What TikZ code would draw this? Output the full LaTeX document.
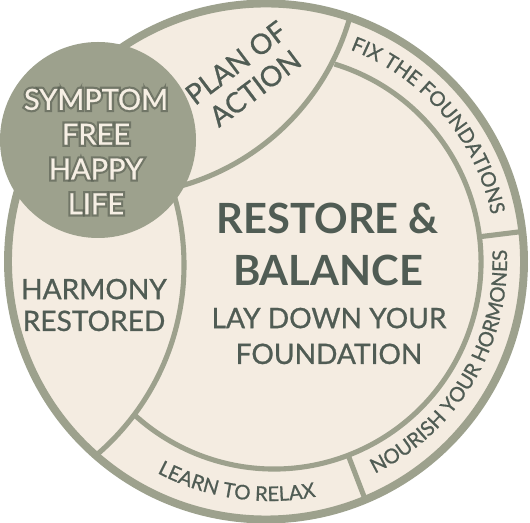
\documentclass[tikz,border=0pt]{standalone}
\usepackage{fontspec}
\setmainfont{Lato}
\newfontfamily\inkface{Lato}[FakeBold=0.8]
\newfontfamily\haloface{Lato}[FakeBold=16]
\usetikzlibrary{decorations.text}

\definecolor{paper}{RGB}{244,236,225}
\definecolor{sage}{RGB}{157,161,141}
\definecolor{ink}{RGB}{80,92,84}
\definecolor{cream}{RGB}{246,239,228}
\definecolor{halo}{RGB}{84,90,78}

\newcommand\ringfont{\inkface\fontsize{11.5}{13}\selectfont}

\begin{document}
\begin{tikzpicture}[x=0.02cm,y=0.02cm,
        divider/.style={draw=sage,line width=2.9pt},
        label/.style={text=ink,align=center,font=\inkface\fontsize{16}{18.1}\selectfont},
        goal/.style={align=center,font=\inkface\fontsize{16.5}{19.8}\selectfont},
        ringtext/.style={decorate,decoration={text along path,text align=center,text color=ink,text={|\ringfont|#1}}}]
    \useasboundingbox (0,0) rectangle (530,523);

    % plate
    \fill[paper] (266,261.5) circle (258);

    % inner lines
    \begin{scope}
        \clip (266,261.5) circle (258);
        \draw[divider] (115,572) circle (244);
        \draw[divider] (-66,258) circle (250);
        \draw[divider] (274,261) ++(73:207) arc[start angle=73,end angle=-133,radius=207];
        \draw[divider] (274,261) ++(7:207) -- ++(7:50);
        \draw[divider] (274,261) ++(-69:207) -- ++(-69:60);
    \end{scope}
    \draw[sage,line width=4.5pt] (266,261.5) circle (258);

    % goal circle
    \fill[sage] (98,383) circle (98);
    \node[goal,text=halo,opacity=0.6,font=\haloface\fontsize{16.5}{19.8}\selectfont] (glow) at (96,371.5) {SYMPTOM\\FREE\\HAPPY\\LIFE};
    \node[goal,text=cream] (goal) at (96,371.5) {SYMPTOM\\FREE\\HAPPY\\LIFE};

    \node[label,rotate=37] (plan) at (245.5,447.5) {PLAN OF\\ACTION};
    \node[label] (harmony) at (94,218) {HARMONY\\RESTORED};

    \node[text=ink,align=center,font=\fontsize{23.7}{30}\selectfont\bfseries] (restore) at (328,278.5) {RESTORE \&\\BALANCE};
    \node[text=ink,align=center,font=\inkface\fontsize{16}{20.4}\selectfont] (found) at (329,187) {LAY DOWN YOUR\\FOUNDATION};

    % ring labels
    \path[ringtext={FIX THE FOUNDATIONS}] (270,262) ++(100:226) arc[start angle=100,end angle=-19,radius=226];
    \path[ringtext={NOURISH YOUR HORMONES}] (270,262) ++(-90:237) arc[start angle=-90,end angle=29,radius=237];
    \path[ringtext={LEARN TO RELAX}] (270,262) ++(-158.5:240) arc[start angle=-158.5,end angle=-38.5,radius=240];
\end{tikzpicture}
\end{document}
